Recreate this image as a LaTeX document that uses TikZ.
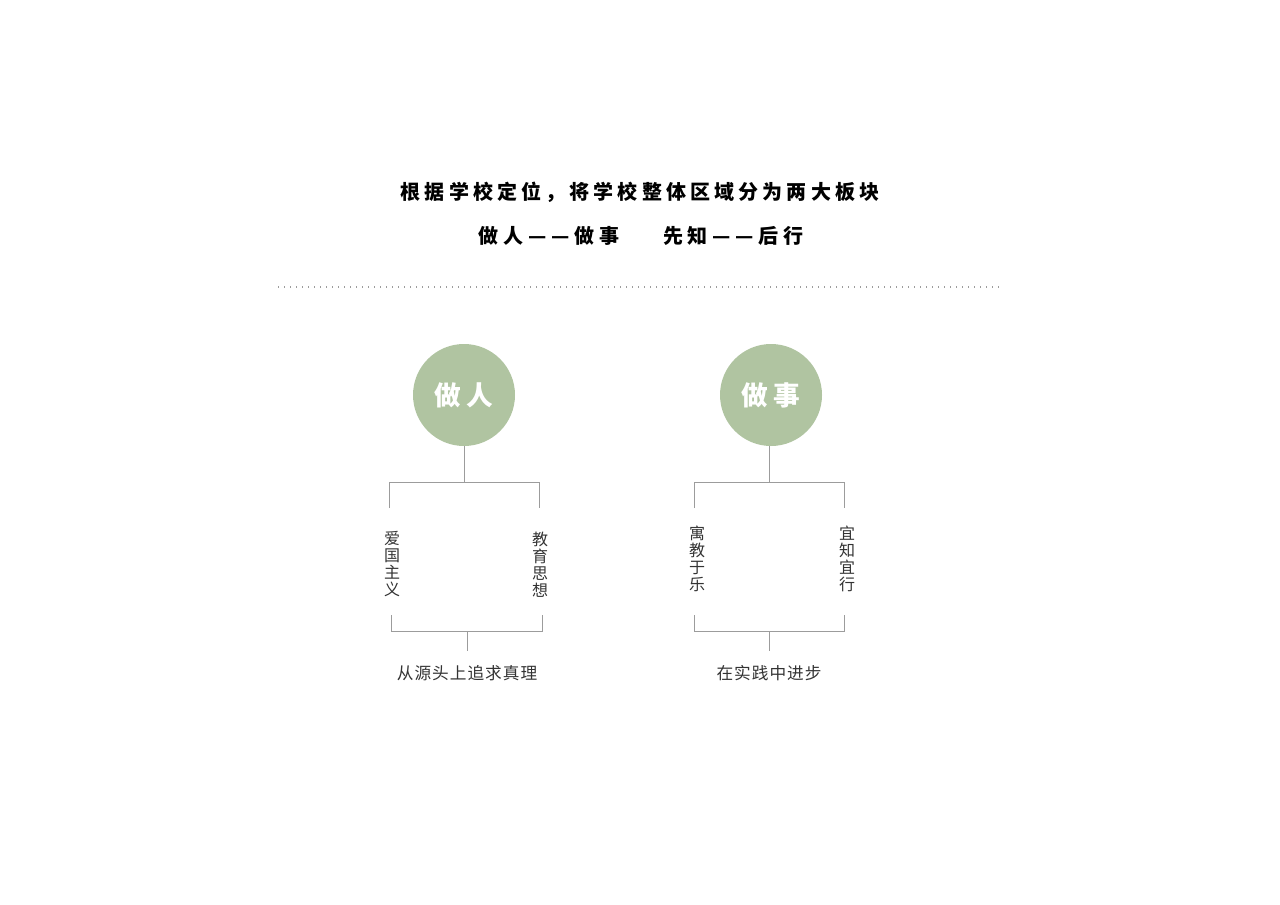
\documentclass[tikz,border=0pt]{standalone}
\usepackage{fontspec}
\newfontfamily\cjk{Noto Sans CJK SC}
\newlength\cjkgap
\XeTeXinterchartokenstate=1
\def\cjkpair#1#2{\XeTeXinterchartoks #1 #2 = {\nobreak\hskip\cjkgap}}
\cjkpair00\cjkpair01\cjkpair02\cjkpair03
\cjkpair10\cjkpair11\cjkpair12\cjkpair13
\cjkpair20\cjkpair21\cjkpair22\cjkpair23
\cjkpair30\cjkpair31\cjkpair32\cjkpair33
\definecolor{sage}{HTML}{B0C4A1}
\definecolor{rule}{HTML}{9C9C9C}
\definecolor{ink}{HTML}{333333}
\begin{document}
\begin{tikzpicture}[x=0.75pt,y=-0.75pt,every node/.style={inner sep=0pt},
            gap/.style={execute at begin node={\setlength\cjkgap{#1}}},
            title/.style={text=black,gap=3.1pt,font=\cjk\bfseries\fontsize{15}{18}\selectfont},
            ball/.style={circle,fill=sage,minimum size=76.5pt,text=white,gap=3.75pt,
              font=\cjk\bfseries\fontsize{20}{24}\selectfont},
            vtext/.style={align=center,text=ink,font=\cjk\fontsize{12}{12.75}\selectfont},
            note/.style={text=ink,gap=0.75pt,font=\cjk\fontsize{12.5}{15}\selectfont},
            branch/.style={rule,line width=0.75pt},
            dots/.style={rule,line width=0.9pt,dash pattern=on 0.9pt off 3.6pt}]
            \useasboundingbox (0,0) rectangle (1280,905);
            \node[title](head)at(640,192){根据学校定位，将学校整体区域分为两大板块};
            \node[title,gap=3.6pt](motto)at(641,236){做人——做事\hspace{33pt}先知——后行};
            \coordinate(dotL)at(278,287);\coordinate(dotR)at(1003,287);
            \draw[dots](dotL)--(dotR);
            % 做人
            \node[ball](zuoren)at(464,395){做人};
            \coordinate(zuorenC)at(464,482);
            \coordinate(zuorenL)at(389,482);\coordinate(zuorenLd)at(389,508);
            \coordinate(zuorenR)at(539,482);\coordinate(zuorenRd)at(539,508);
            \node[vtext](aiguo)at(392,564){爱\\国\\主\\义};
            \node[vtext](jiaoyu)at(540,565){教\\育\\思\\想};
            \coordinate(zhenliL)at(391,631);\coordinate(zhenliLu)at(391,615);
            \coordinate(zhenliR)at(542,631);\coordinate(zhenliRu)at(542,615);
            \coordinate(zhenliC)at(467,631);\coordinate(zhenliB)at(467,651);
            \node[note](zhenli)at(467,673){从源头上追求真理};
            \draw[branch](zuoren.south)--(zuorenC);
            \draw[branch](zuorenLd)--(zuorenL)--(zuorenR)--(zuorenRd);
            \draw[branch](zhenliLu)--(zhenliL)--(zhenliR)--(zhenliRu);
            \draw[branch](zhenliC)--(zhenliB);
            % 做事
            \node[ball](zuoshi)at(771,395){做事};
            \coordinate(zuoshiC)at(769,482);
            \coordinate(zuoshiL)at(694,482);\coordinate(zuoshiLd)at(694,508);
            \coordinate(zuoshiR)at(844,482);\coordinate(zuoshiRd)at(844,508);
            \node[vtext](yujiao)at(697,559){寓\\教\\于\\乐};
            \node[vtext](yizhi)at(847,559){宜\\知\\宜\\行};
            \coordinate(jinbuL)at(694,631);\coordinate(jinbuLu)at(694,615);
            \coordinate(jinbuR)at(844,631);\coordinate(jinbuRu)at(844,615);
            \coordinate(jinbuC)at(769,631);\coordinate(jinbuB)at(769,651);
            \node[note](jinbu)at(769,673){在实践中进步};
            \draw[branch](zuoshi.south -| zuoshiC)--(zuoshiC);
            \draw[branch](zuoshiLd)--(zuoshiL)--(zuoshiR)--(zuoshiRd);
            \draw[branch](jinbuLu)--(jinbuL)--(jinbuR)--(jinbuRu);
            \draw[branch](jinbuC)--(jinbuB);
        \end{tikzpicture}
\end{document}
